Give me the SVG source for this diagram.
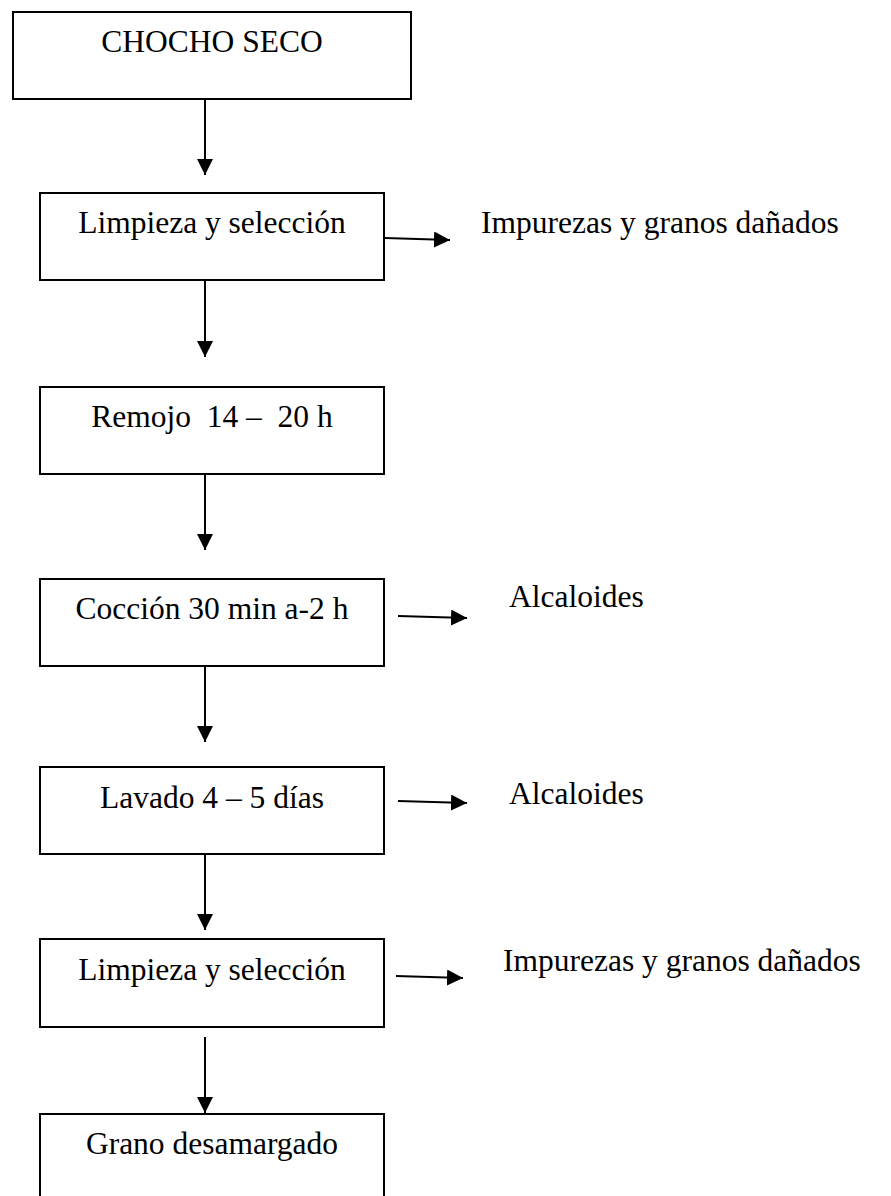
<svg xmlns="http://www.w3.org/2000/svg" width="891" height="1196" viewBox="0 0 891 1196">
<style>
.box{fill:#fff;stroke:#000;stroke-width:2}
.t{font-family:"Liberation Serif","Times New Roman",serif;font-size:31.5px;fill:#000;white-space:pre}
.c{text-anchor:middle}
.ln{stroke:#000;stroke-width:2;fill:none}
</style>
<defs>
<marker id="ah" markerUnits="userSpaceOnUse" markerWidth="16" markerHeight="16" refX="16" refY="8" orient="auto" viewBox="0 0 16 16">
<path d="M0,0 L16,8 L0,16 z" fill="#000"/>
</marker>
</defs>
<rect width="891" height="1196" fill="#fff"/>
<g id="n1"><rect class="box" x="13" y="12" width="398" height="87"/><text class="t c" x="212" y="52">CHOCHO SECO</text></g>
<g id="n2"><rect class="box" x="40" y="193" width="344" height="87"/><text class="t c" x="212" y="233">Limpieza y selección</text></g>
<g id="n3"><rect class="box" x="40" y="387" width="344" height="87"/><text class="t c" x="212" y="427" xml:space="preserve">Remojo  14 –  20 h</text></g>
<g id="n4"><rect class="box" x="40" y="579" width="344" height="87"/><text class="t c" x="212" y="619">Cocción 30 min a-2 h</text></g>
<g id="n5"><rect class="box" x="40" y="767" width="344" height="87"/><text class="t c" x="212" y="808">Lavado 4 – 5 días</text></g>
<g id="n6"><rect class="box" x="40" y="939" width="344" height="88"/><text class="t c" x="212" y="980">Limpieza y selección</text></g>
<g id="n7"><rect class="box" x="40" y="1114" width="344" height="100"/><text class="t c" x="212" y="1154">Grano desamargado</text></g>
<g id="o1"><text class="t" x="481" y="233">Impurezas y granos dañados</text></g>
<g id="o2"><text class="t" x="509" y="607">Alcaloides</text></g>
<g id="o3"><text class="t" x="509" y="804">Alcaloides</text></g>
<g id="o4"><text class="t" x="503" y="971">Impurezas y granos dañados</text></g>
<g id="connectors">
<line class="ln" x1="205" y1="99" x2="205" y2="175" marker-end="url(#ah)"/>
<line class="ln" x1="205" y1="281" x2="205" y2="357" marker-end="url(#ah)"/>
<line class="ln" x1="205" y1="474" x2="205" y2="550" marker-end="url(#ah)"/>
<line class="ln" x1="205" y1="666" x2="205" y2="742" marker-end="url(#ah)"/>
<line class="ln" x1="205" y1="854" x2="205" y2="930" marker-end="url(#ah)"/>
<line class="ln" x1="205" y1="1037" x2="205" y2="1113" marker-end="url(#ah)"/>
<line class="ln" x1="385" y1="238" x2="450" y2="240" marker-end="url(#ah)"/>
<line class="ln" x1="398" y1="616" x2="467" y2="618" marker-end="url(#ah)"/>
<line class="ln" x1="398" y1="801" x2="467" y2="803" marker-end="url(#ah)"/>
<line class="ln" x1="396" y1="976" x2="463" y2="978" marker-end="url(#ah)"/>
</g>
</svg>
